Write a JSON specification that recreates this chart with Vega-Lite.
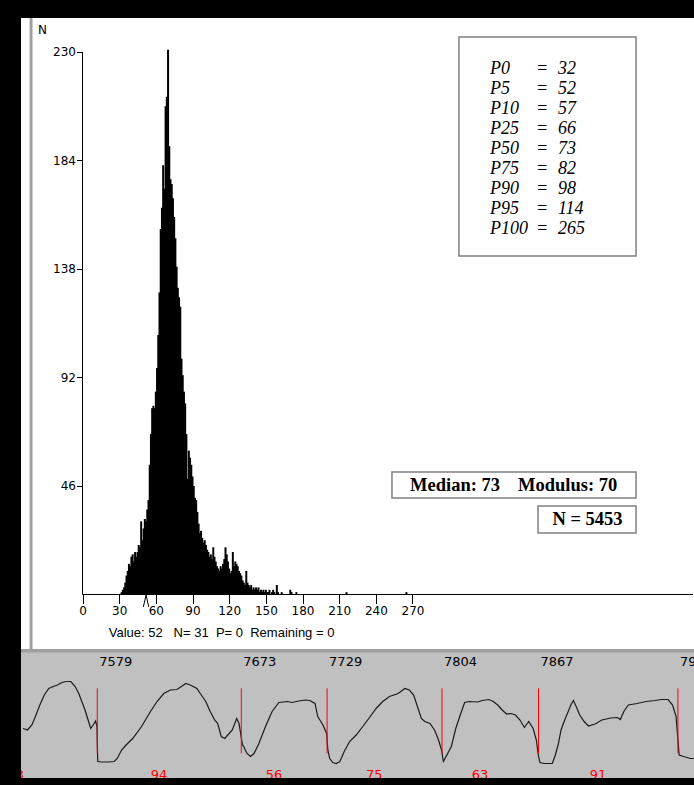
{
  "$schema": "https://vega.github.io/schema/vega-lite/v6.json",
  "background": "black",
  "padding": {"left": 21, "top": 18, "right": 0, "bottom": 7},
  "spacing": 0,
  "config": {
    "view": {"stroke": null},
    "axis": {"grid": false, "domain": false, "labelFont": "DejaVu Sans", "labelFontSize": 12, "labelColor": "#000000", "tickColor": "#000000", "titleColor": "#000000", "titleFont": "DejaVu Sans", "titleFontSize": 12, "titleFontWeight": "normal", "labelOverlap": false, "labelFlush": false}
  },
  "datasets": {
    "one": [{}],
    "hist": [
      {"v":32,"n":1},{"v":33,"n":2},{"v":34,"n":3},{"v":35,"n":5},{"v":36,"n":8},{"v":37,"n":10},{"v":38,"n":13},{"v":39,"n":12},{"v":40,"n":16},{"v":41,"n":17},{"v":42,"n":14},{"v":43,"n":18},{"v":44,"n":16},{"v":45,"n":18},{"v":46,"n":21},{"v":47,"n":20},{"v":48,"n":31},{"v":49,"n":23},{"v":50,"n":28},{"v":51,"n":32},{"v":52,"n":31},{"v":53,"n":36},{"v":54,"n":40},{"v":55,"n":55},{"v":56,"n":68},{"v":57,"n":79},{"v":58,"n":80},{"v":59,"n":79},{"v":60,"n":86},{"v":61,"n":96},{"v":62,"n":110},{"v":63,"n":128},{"v":64,"n":155},{"v":65,"n":164},{"v":66,"n":182},{"v":67,"n":172},{"v":68,"n":207},{"v":69,"n":211},{"v":70,"n":231},{"v":71,"n":190},{"v":72,"n":176},{"v":73,"n":174},{"v":74,"n":168},{"v":75,"n":160},{"v":76,"n":151},{"v":77,"n":139},{"v":78,"n":130},{"v":79,"n":126},{"v":80,"n":122},{"v":81,"n":100},{"v":82,"n":93},{"v":83,"n":86},{"v":84,"n":81},{"v":85,"n":68},{"v":86,"n":49},{"v":87,"n":61},{"v":88,"n":58},{"v":89,"n":55},{"v":90,"n":50},{"v":91,"n":46},{"v":92,"n":41},{"v":93,"n":40},{"v":94,"n":35},{"v":95,"n":30},{"v":96,"n":26},{"v":97,"n":27},{"v":98,"n":24},{"v":99,"n":22},{"v":100,"n":23},{"v":101,"n":21},{"v":102,"n":19},{"v":103,"n":18},{"v":104,"n":16},{"v":105,"n":17},{"v":106,"n":15},{"v":107,"n":20},{"v":108,"n":16},{"v":109,"n":14},{"v":110,"n":12},{"v":111,"n":11},{"v":112,"n":10},{"v":113,"n":12},{"v":114,"n":11},{"v":115,"n":13},{"v":116,"n":15},{"v":117,"n":20},{"v":118,"n":17},{"v":119,"n":14},{"v":120,"n":11},{"v":121,"n":9},{"v":122,"n":10},{"v":123,"n":18},{"v":124,"n":12},{"v":125,"n":14},{"v":126,"n":13},{"v":127,"n":12},{"v":128,"n":10},{"v":129,"n":9},{"v":130,"n":8},{"v":131,"n":6},{"v":132,"n":5},{"v":133,"n":4},{"v":134,"n":10},{"v":135,"n":5},{"v":136,"n":4},{"v":137,"n":3},{"v":138,"n":4},{"v":139,"n":2},{"v":140,"n":3},{"v":141,"n":2},{"v":142,"n":3},{"v":143,"n":2},{"v":144,"n":3},{"v":145,"n":1},{"v":146,"n":2},{"v":147,"n":1},{"v":148,"n":2},{"v":149,"n":1},{"v":150,"n":2},{"v":151,"n":1},{"v":152,"n":1},{"v":153,"n":2},{"v":155,"n":1},{"v":156,"n":2},{"v":157,"n":1},{"v":159,"n":4},{"v":160,"n":1},{"v":163,"n":1},{"v":170,"n":2},{"v":171,"n":1},{"v":175,"n":1},{"v":216,"n":1},{"v":265,"n":1}
    ],
    "pct": [
      {"p":"P0","val":32},{"p":"P5","val":52},{"p":"P10","val":57},{"p":"P25","val":66},{"p":"P50","val":73},{"p":"P75","val":82},{"p":"P90","val":98},{"p":"P95","val":114},{"p":"P100","val":265}
    ],
    "wave": [
      {"s":7530.5,"a":33.5},{"s":7533.4,"a":32},{"s":7536.3,"a":37},{"s":7538.6,"a":45.5},{"s":7541.5,"a":57},{"s":7544.4,"a":67},{"s":7547.3,"a":73.5},{"s":7550.2,"a":75.5},{"s":7553.0,"a":77},{"s":7555.9,"a":79.5},{"s":7558.8,"a":80.5},{"s":7561.7,"a":80.5},{"s":7564.6,"a":75.5},{"s":7566.9,"a":68.5},{"s":7568.9,"a":60.5},{"s":7571.0,"a":52},{"s":7572.7,"a":43.5},{"s":7574.7,"a":33.5},{"s":7576.7,"a":38},{"s":7577.9,"a":41},{"s":7578.8,"a":35.5},{"s":7579.0,"a":18.5},{"s":7579.3,"a":0.5},{"s":7581.9,"a":0},{"s":7586.3,"a":0},{"s":7590.0,"a":0.5},{"s":7592.0,"a":3.5},{"s":7594.9,"a":12},{"s":7597.8,"a":17},{"s":7602.1,"a":23.5},{"s":7607.9,"a":35.5},{"s":7613.7,"a":50.5},{"s":7618.0,"a":60.5},{"s":7622.4,"a":68.5},{"s":7626.7,"a":72},{"s":7631.0,"a":72.5},{"s":7633.9,"a":75.5},{"s":7636.8,"a":78.5},{"s":7639.7,"a":77},{"s":7644.0,"a":73.5},{"s":7646.9,"a":67},{"s":7649.8,"a":60.5},{"s":7652.7,"a":50.5},{"s":7655.6,"a":42},{"s":7657.6,"a":38.5},{"s":7659.9,"a":25.5},{"s":7662.2,"a":23.5},{"s":7664.2,"a":27},{"s":7667.1,"a":32},{"s":7670.0,"a":43.5},{"s":7671.5,"a":38.5},{"s":7672.9,"a":25.5},{"s":7673.8,"a":17},{"s":7674.4,"a":16},{"s":7676.7,"a":8.5},{"s":7679.0,"a":5.5},{"s":7681.3,"a":8.5},{"s":7684.5,"a":18.5},{"s":7688.8,"a":35.5},{"s":7693.1,"a":50.5},{"s":7697.5,"a":59.5},{"s":7703.2,"a":60.5},{"s":7706.1,"a":59.5},{"s":7710.5,"a":61},{"s":7714.8,"a":62},{"s":7717.7,"a":61.5},{"s":7721.1,"a":58.5},{"s":7722.9,"a":45.5},{"s":7726.3,"a":37},{"s":7728.7,"a":28.5},{"s":7729.5,"a":12},{"s":7730.7,"a":3.5},{"s":7732.7,"a":-0.5},{"s":7735.0,"a":-1.5},{"s":7737.3,"a":0.5},{"s":7740.2,"a":10.5},{"s":7743.7,"a":20.5},{"s":7748.0,"a":27},{"s":7752.3,"a":35.5},{"s":7756.7,"a":44.5},{"s":7761.0,"a":53.5},{"s":7765.3,"a":60.5},{"s":7769.7,"a":65.5},{"s":7775.4,"a":68.5},{"s":7779.8,"a":73.5},{"s":7782.7,"a":72},{"s":7785.5,"a":67},{"s":7788.4,"a":53.5},{"s":7790.5,"a":43.5},{"s":7792.8,"a":40.5},{"s":7796.2,"a":38.5},{"s":7799.1,"a":32},{"s":7801.4,"a":23.5},{"s":7803.7,"a":12},{"s":7804.9,"a":0.5},{"s":7807.2,"a":7},{"s":7810.1,"a":15.5},{"s":7813.0,"a":33.5},{"s":7815.9,"a":47},{"s":7818.8,"a":59.5},{"s":7821.7,"a":60.5},{"s":7827.4,"a":60},{"s":7830.3,"a":61.5},{"s":7834.6,"a":62.5},{"s":7837.5,"a":60.5},{"s":7840.4,"a":57},{"s":7843.3,"a":52},{"s":7846.2,"a":48},{"s":7849.1,"a":48.5},{"s":7852.0,"a":47},{"s":7854.9,"a":42},{"s":7857.8,"a":34.5},{"s":7860.6,"a":40.5},{"s":7863.5,"a":33.5},{"s":7865.6,"a":22},{"s":7866.7,"a":8.5},{"s":7867.9,"a":-0.5},{"s":7870.7,"a":-1.5},{"s":7876.0,"a":-1.5},{"s":7878.0,"a":7},{"s":7880.0,"a":18.5},{"s":7881.7,"a":32},{"s":7884.1,"a":42},{"s":7886.4,"a":50.5},{"s":7888.1,"a":57},{"s":7889.8,"a":61.5},{"s":7891.6,"a":55.5},{"s":7893.9,"a":47},{"s":7896.8,"a":40.5},{"s":7899.6,"a":36},{"s":7904.0,"a":38},{"s":7908.3,"a":42},{"s":7914.1,"a":44},{"s":7918.4,"a":44.5},{"s":7920.4,"a":42.5},{"s":7922.7,"a":50.5},{"s":7925.6,"a":57},{"s":7931.4,"a":58.5},{"s":7937.2,"a":60.5},{"s":7943.0,"a":61.5},{"s":7947.3,"a":62.5},{"s":7951.6,"a":62.5},{"s":7954.5,"a":57},{"s":7956.8,"a":45.5},{"s":7958.0,"a":22},{"s":7958.8,"a":7},{"s":7961.7,"a":5.5},{"s":7966.1,"a":3.5},{"s":7968.4,"a":3.5}
    ],
    "beats": [
      {"beat":7579,"rr":93},{"beat":7673,"rr":94},{"beat":7729,"rr":56},{"beat":7804,"rr":75},{"beat":7867,"rr":63},{"beat":7958,"rr":91}
    ]
  },
  "vconcat": [
    {
      "width": 673,
      "height": 631,
      "view": {"fill": "#ffffff", "stroke": null},
      "resolve": {"scale": {"y": "independent"}},
      "layer": [
        {
          "layer": [
            {
              "data": {"name": "one"},
              "mark": {"type": "rect", "fill": "#a0a0a0", "stroke": null},
              "encoding": {"x": {"datum": -43.3, "type": "quantitative"}, "x2": {"datum": -40.9}, "y": {"datum": -23.11, "type": "quantitative"}, "y2": {"datum": 244.41}}
            },
            {
              "data": {"name": "hist"},
              "mark": {"type": "bar", "color": "#000000", "width": 2},
              "encoding": {
                "x": {"field": "v", "type": "quantitative", "scale": {"domain": [-50.32, 500.32], "nice": false, "zero": false, "padding": 0},
                  "axis": {"orient": "bottom", "offset": -54.5, "values": [0, 30, 60, 90, 120, 150, 180, 210, 240, 270], "tickSize": 9, "labelPadding": 2,
                    "title": "Value: 52\u00a0\u00a0 N= 31\u00a0 P= 0\u00a0 Remaining = 0", "titleFont": "Liberation Sans", "titleFontSize": 13, "titleAnchor": "start", "titleAlign": "left", "titleX": 87.3, "titleY": 37.5, "titleBaseline": "middle"}},
                "y": {"field": "n", "type": "quantitative", "scale": {"domain": [-23.11, 244.41], "nice": false, "zero": false, "padding": 0},
                  "axis": {"orient": "left", "offset": -61.5, "values": [46, 92, 138, 184, 230], "tickSize": 6, "labelPadding": 1,
                    "title": "N", "titleAngle": 0, "titleX": -40.5, "titleY": 11, "titleAlign": "center", "titleBaseline": "middle"}},
                "y2": {"datum": 0}
              }
            },
            {
              "data": {"name": "one"},
              "mark": {"type": "rule", "color": "#000000", "strokeWidth": 1},
              "encoding": {"x": {"datum": 0}, "x2": {"datum": 499.5}, "y": {"datum": 0}}
            },
            {
              "data": {"name": "one"},
              "mark": {"type": "rule", "color": "#000000", "strokeWidth": 1},
              "encoding": {"x": {"datum": 0}, "y": {"datum": 0}, "y2": {"datum": 230}}
            },
            {
              "data": {"name": "one"},
              "mark": {"type": "point", "shape": "M-0.45,1L0,-1L0.45,1", "size": 144, "filled": false, "stroke": "#000000", "strokeWidth": 1, "opacity": 1},
              "encoding": {"x": {"datum": 52}, "y": {"datum": -2.76}}
            },
            {
              "data": {"name": "one"},
              "mark": {"type": "rect", "fill": "#ffffff", "stroke": "#808080", "strokeWidth": 1.5},
              "encoding": {"x": {"datum": 308.0}, "x2": {"datum": 452.9}, "y": {"datum": 236.4}, "y2": {"datum": 143.5}}
            },
            {
              "data": {"name": "one"},
              "mark": {"type": "rect", "fill": "#ffffff", "stroke": "#808080", "strokeWidth": 1.5},
              "encoding": {"x": {"datum": 253.2}, "x2": {"datum": 452.9}, "y": {"datum": 51.9}, "y2": {"datum": 40.9}}
            },
            {
              "data": {"name": "one"},
              "mark": {"type": "rect", "fill": "#ffffff", "stroke": "#808080", "strokeWidth": 1.5},
              "encoding": {"x": {"datum": 372.7}, "x2": {"datum": 452.9}, "y": {"datum": 37.5}, "y2": {"datum": 26.1}}
            },
            {
              "data": {"name": "one"},
              "mark": {"type": "text", "text": "Median: 73", "font": "Liberation Serif", "fontWeight": "bold", "fontSize": 18.5, "align": "left", "baseline": "middle", "color": "#000000"},
              "encoding": {"x": {"datum": 268.0}, "y": {"datum": 46.4}}
            },
            {
              "data": {"name": "one"},
              "mark": {"type": "text", "text": "Modulus: 70", "font": "Liberation Serif", "fontWeight": "bold", "fontSize": 18.5, "align": "left", "baseline": "middle", "color": "#000000"},
              "encoding": {"x": {"datum": 356.3}, "y": {"datum": 46.4}}
            },
            {
              "data": {"name": "one"},
              "mark": {"type": "text", "text": "N = 5453", "font": "Liberation Serif", "fontWeight": "bold", "fontSize": 18.5, "align": "center", "baseline": "middle", "color": "#000000"},
              "encoding": {"x": {"datum": 413.2}, "y": {"datum": 31.8}}
            }
          ]
        },
        {
          "data": {"name": "pct"},
          "encoding": {
            "y": {"field": "p", "type": "ordinal", "sort": null, "axis": null, "scale": {"type": "point", "range": [51, 211], "padding": 0}}
          },
          "layer": [
            {
              "mark": {"type": "text", "font": "Liberation Serif", "fontStyle": "italic", "fontSize": 18, "align": "left", "baseline": "middle", "color": "#000000"},
              "encoding": {"x": {"datum": 333.4}, "text": {"field": "p"}}
            },
            {
              "mark": {"type": "text", "text": "=", "font": "Liberation Serif", "fontStyle": "italic", "fontSize": 18, "align": "center", "baseline": "middle", "color": "#000000"},
              "encoding": {"x": {"datum": 376.0}}
            },
            {
              "mark": {"type": "text", "font": "Liberation Serif", "fontStyle": "italic", "fontSize": 18, "align": "left", "baseline": "middle", "color": "#000000"},
              "encoding": {"x": {"datum": 389.0}, "text": {"field": "val"}}
            }
          ]
        }
      ]
    },
    {
      "width": 673,
      "height": 129,
      "view": {"fill": "#c0c0c0", "stroke": null},
      "layer": [
        {
          "data": {"name": "wave"},
          "mark": {"type": "line", "color": "#1a1a1a", "strokeWidth": 1.2, "clip": true},
          "encoding": {
            "x": {"field": "s", "type": "quantitative", "scale": {"domain": [7529.2, 7968.5], "nice": false, "zero": false}, "axis": null},
            "y": {"field": "a", "type": "quantitative", "scale": {"domain": [-16, 113], "nice": false, "zero": false}, "axis": null}
          }
        },
        {
          "data": {"name": "beats"},
          "mark": {"type": "rule", "color": "#ff0000", "strokeWidth": 1, "clip": true},
          "encoding": {"x": {"field": "beat", "type": "quantitative"}, "y": {"datum": 73.7}, "y2": {"datum": 8.7}}
        },
        {
          "data": {"name": "beats"},
          "mark": {"type": "text", "align": "left", "baseline": "middle", "dx": 2, "font": "DejaVu Sans", "fontSize": 13, "color": "#000000", "clip": true},
          "encoding": {"x": {"field": "beat", "type": "quantitative"}, "y": {"datum": 100}, "text": {"field": "beat", "type": "quantitative", "format": "d"}}
        },
        {
          "data": {"name": "beats"},
          "transform": [{"calculate": "datum.beat - datum.rr / 2", "as": "mid"}],
          "mark": {"type": "text", "align": "right", "baseline": "middle", "dx": -2, "font": "DejaVu Sans", "fontSize": 13, "color": "#ff0000", "clip": true},
          "encoding": {"x": {"field": "mid", "type": "quantitative"}, "y": {"datum": -13}, "text": {"field": "rr", "type": "quantitative", "format": "d"}}
        },
        {
          "data": {"name": "one"},
          "mark": {"type": "rect", "fill": "#a0a0a0", "stroke": null},
          "encoding": {"x": {"datum": 7529.2}, "x2": {"datum": 7968.5}, "y": {"datum": 113}, "y2": {"datum": 109.5}}
        }
      ]
    }
  ]
}
